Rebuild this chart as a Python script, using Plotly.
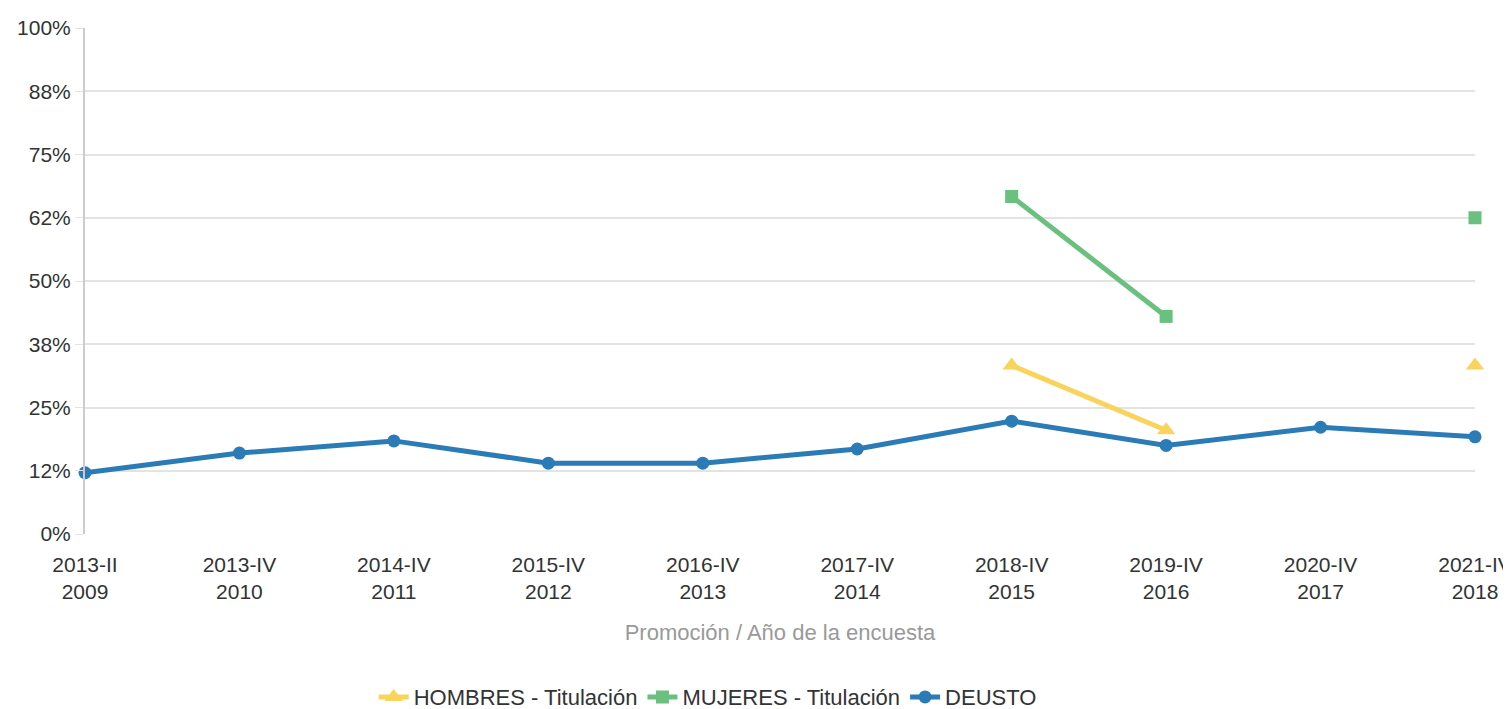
import plotly.graph_objects as go

promociones = ["2013-II<br>2009", "2013-IV<br>2010", "2014-IV<br>2011", "2015-IV<br>2012",
               "2016-IV<br>2013", "2017-IV<br>2014", "2018-IV<br>2015", "2019-IV<br>2016",
               "2020-IV<br>2017", "2021-IV<br>2018"]

hombres = [None, None, None, None, None, None, 33.3, 20.5, None, 33.3]
mujeres = [None, None, None, None, None, None, 66.7, 43.0, None, 62.5]
deusto = [12.1, 16.0, 18.4, 14.0, 14.0, 16.8, 22.3, 17.5, 21.1, 19.2]

y_ticks = [0, 12.5, 25, 37.5, 50, 62.5, 75, 87.5, 100]
y_labels = ["0%", "12%", "25%", "38%", "50%", "62%", "75%", "88%", "100%"]

FONT = "Liberation Sans, Arial, sans-serif"

fig = go.Figure()
fig.add_trace(go.Scatter(
    x=promociones, y=hombres, name="HOMBRES - Titulación", mode="lines+markers",
    line=dict(color="#f8d45c", width=5),
    marker=dict(symbol="triangle-up", size=16, color="#f8d45c"),
    cliponaxis=False,
))
fig.add_trace(go.Scatter(
    x=promociones, y=mujeres, name="MUJERES - Titulación", mode="lines+markers",
    line=dict(color="#69c07f", width=5),
    marker=dict(symbol="square", size=13, color="#69c07f"),
    cliponaxis=False,
))
fig.add_trace(go.Scatter(
    x=promociones, y=deusto, name="DEUSTO", mode="lines+markers",
    line=dict(color="#2a7bb6", width=5),
    marker=dict(symbol="circle", size=13, color="#2a7bb6"),
    cliponaxis=False,
))

# the page has an 8px body margin, so the figure is a bit smaller than the window
fig.update_layout(
    width=1503, height=701,
    margin=dict(l=77, r=36, t=20, b=175),
    paper_bgcolor="white", plot_bgcolor="white",
    font=dict(family=FONT, size=21, color="#333333"),
    showlegend=True,
    legend=dict(orientation="h", x=0.448, xanchor="center",
                yref="container", y=0.017, yanchor="middle",
                font=dict(size=22, color="#333333"), traceorder="normal", itemwidth=30),
)
fig.update_xaxes(
    type="category", range=[0, 9], automargin=False,
    showgrid=False, showline=False, zeroline=False,
    ticks="", ticklabelstandoff=16, tickfont=dict(size=21, color="#333333"),
    title=dict(text="Promoción / Año de la encuesta", font=dict(size=22, color="#999999"), standoff=22),
)
fig.update_yaxes(
    range=[0, 100], tickvals=y_ticks, ticktext=y_labels, automargin=False,
    showgrid=True, gridcolor="#e3e3e3", gridwidth=1.5,
    showline=True, linecolor="#cccccc", linewidth=2,
    zeroline=False,
    ticks="outside", ticklen=8, tickcolor="#e3e3e3",
    tickfont=dict(size=21, color="#333333"),
)

fig.write_html("out.html")
